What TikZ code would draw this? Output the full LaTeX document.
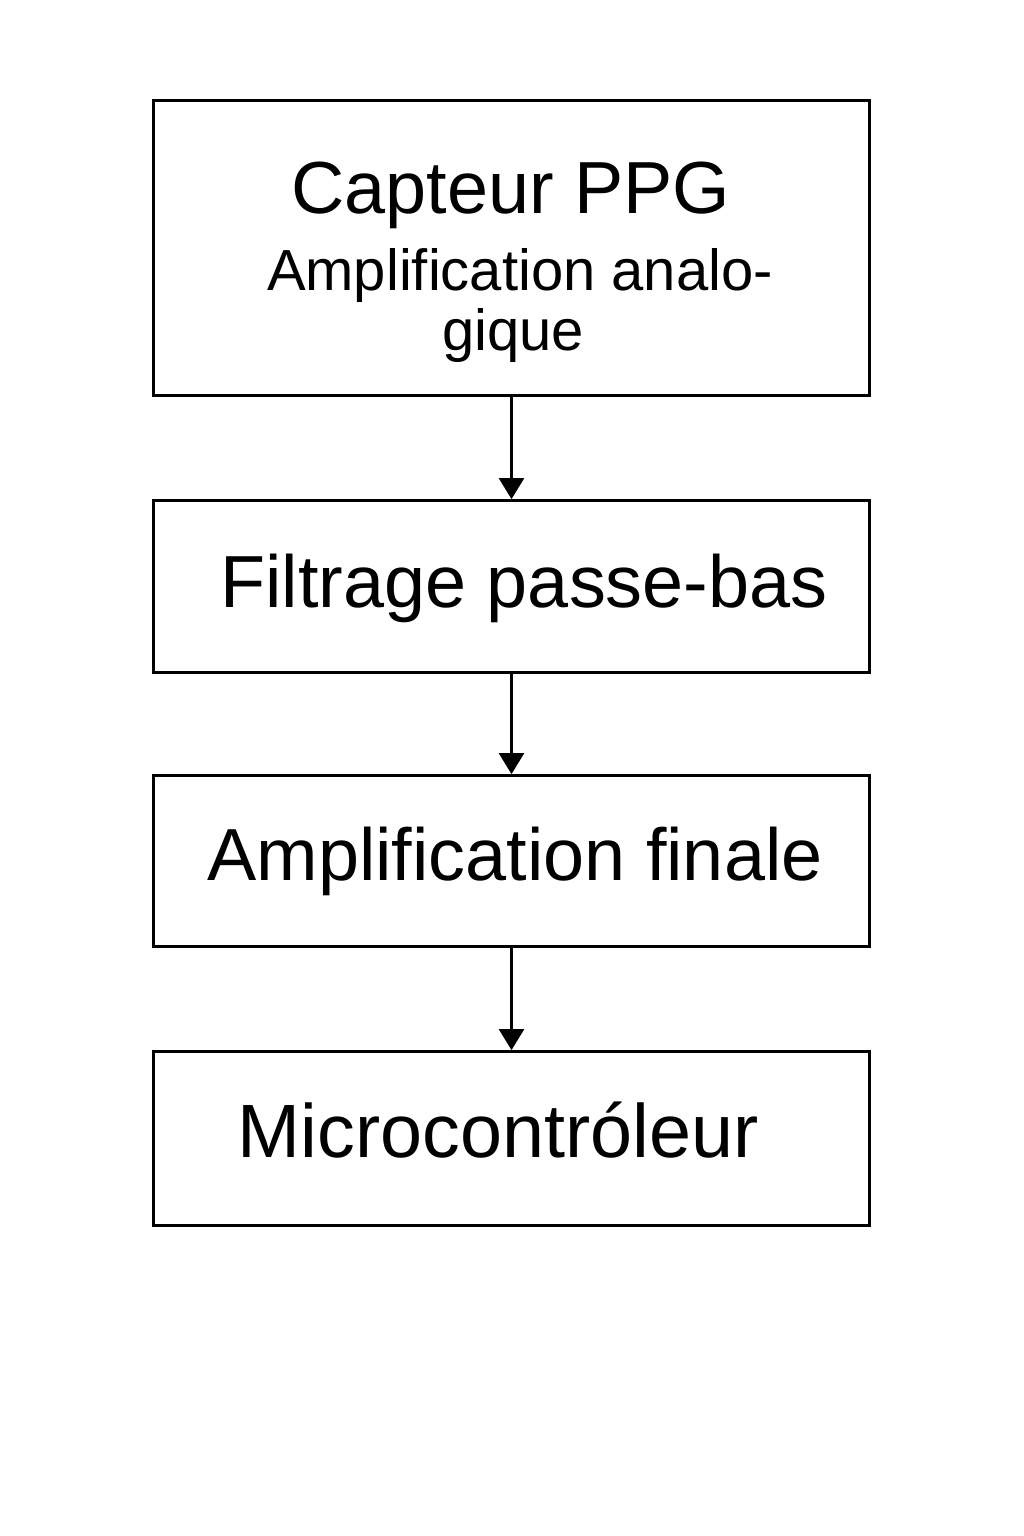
\documentclass[tikz,border=0pt]{standalone}
\usepackage{fontspec}
\setmainfont{Liberation Sans}
\usetikzlibrary{arrows.meta}

\begin{document}
\begin{tikzpicture}[x=0.02cm,y=-0.02cm,
		blok/.style={draw,line width=1.6pt,minimum width=14.32cm,inner sep=0pt},
		pijl/.style={line width=1.4pt,-{Triangle[length=0.42cm,width=0.5cm]}},
		groot/.style={anchor=base,font=\fontsize{42}{48}\selectfont},
		klein/.style={anchor=base,font=\fontsize{33}{38}\selectfont}]
			\useasboundingbox (0,0) rectangle (1024,1536);
			\node[blok,minimum height=5.9cm] (ppg) at (511.5,248) {};
			\node[blok,minimum height=3.44cm] (filtre) at (511.5,586.5) {};
			\node[blok,minimum height=3.42cm] (ampli) at (511.5,861) {};
			\node[blok,minimum height=3.48cm] (micro) at (511.5,1138.5) {};
			\node[groot] (t1) at (511,213) {Capteur PPG};
			\node[klein] (t1b) at (520,290) {Amplification analo-};
			\node[klein] (t1c) at (513,350) {gique};
			\node[groot] (t2) at (524,607) {Filtrage passe-bas};
			\node[groot] (t3) at (515,880) {Amplification finale};
			\node[groot,font=\fontsize{43}{48}\selectfont] (t4) at (498,1157) {Microcontróleur};
			\draw[pijl] (ppg) -- (filtre);
			\draw[pijl] (filtre) -- (ampli);
			\draw[pijl] (ampli) -- (micro);
		\end{tikzpicture}
\end{document}
